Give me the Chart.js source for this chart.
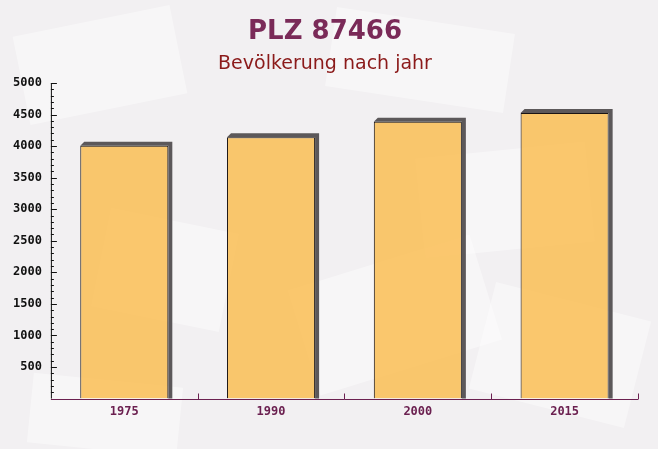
<!DOCTYPE html>
<html>
<head>
<meta charset="utf-8">
<script src="https://cdn.jsdelivr.net/npm/chart.js@4"></script>
<style>
  html, body { margin: 0; padding: 0; background: #f2f0f2; }
  #wrap { width: 658px; height: 449px; position: relative; }
</style>
</head>
<body>
<div id="wrap"><canvas id="barChart"></canvas></div>
<script>
const years = ["1975", "1990", "2000", "2015"];
const population = [4005, 4140, 4385, 4525];
const yTicks = [500, 1000, 1500, 2000, 2500, 3000, 3500, 4000, 4500, 5000];

// shadow behind bars, ticks drawn inward like the original
const decor = {
    id: "decor",
    beforeDraw(chart) {
        const c = chart.ctx;
        c.save();
        c.fillStyle = "#f2f0f2";
        c.fillRect(0, 0, chart.width, chart.height);
        // faint envelope shapes in the background
        c.fillStyle = "rgba(255,255,255,0.4)";
        const boxes = [[20, 20, 160, 90, -0.2], [330, 20, 180, 80, 0.15], [420, 150, 170, 100, -0.1],
                       [100, 220, 130, 100, 0.2], [300, 260, 190, 110, -0.3], [30, 380, 150, 70, 0.1],
                       [480, 300, 160, 110, 0.25]];
        boxes.forEach(b => {
            c.save();
            c.translate(b[0] + b[2] / 2, b[1] + b[3] / 2);
            c.rotate(b[4]);
            c.fillRect(-b[2] / 2, -b[3] / 2, b[2], b[3]);
            c.restore();
        });
        c.restore();
    },
    beforeDatasetsDraw(chart) {
        const c = chart.ctx;
        const meta = chart.getDatasetMeta(0);
        c.save();
        c.fillStyle = "#5c585a";
        meta.data.forEach(bar => {
            const l = bar.x - bar.width / 2;
            const r = bar.x + bar.width / 2;
            c.beginPath();
            c.moveTo(l, bar.y);
            c.lineTo(l + 4, bar.y - 4);
            c.lineTo(r + 4, bar.y - 4);
            c.lineTo(r + 4, bar.base);
            c.lineTo(r, bar.base);
            c.lineTo(r, bar.y);
            c.closePath();
            c.fill();
        });
        c.restore();
    },
    afterDraw(chart) {
        const c = chart.ctx;
        const x = chart.scales.x;
        const y = chart.scales.y;
        const area = chart.chartArea;
        c.save();
        c.lineWidth = 1;
        c.strokeStyle = "#111";
        c.beginPath();
        c.moveTo(area.left + 0.5, area.top);
        c.lineTo(area.left + 0.5, area.bottom);
        for (let v = 100; v <= 5000; v += 100) {
            const py = Math.round(y.getPixelForValue(v)) + 0.5;
            const len = v % 500 === 0 ? 6 : 3;
            c.moveTo(area.left, py);
            c.lineTo(area.left + len, py);
        }
        c.stroke();
        c.strokeStyle = "#6b2050";
        c.beginPath();
        const by = Math.round(area.bottom) + 0.5;
        c.moveTo(area.left, by);
        c.lineTo(area.right, by);
        for (let i = 0; i < years.length; i++) {
            const px = Math.round((x.getPixelForValue(i) + x.getPixelForValue(i + 1)) / 2) + 0.5;
            c.moveTo(px, by);
            c.lineTo(px, by - 6);
        }
        c.stroke();
        c.restore();
    }
};

new Chart(document.getElementById("barChart"), {
    type: "bar",
    data: {
        labels: years,
        datasets: [
        {
            label: "Bevölkerung",
            data: population,
            backgroundColor: "rgba(250, 190, 85, 0.85)",
            borderColor: "#1a1414",
            borderWidth: 1,
            borderSkipped: "bottom",
            barPercentage: 0.6,
            categoryPercentage: 1.0,
        },
        ],
    },
    plugins: [decor],
    options: {
        responsive: true,
        maintainAspectRatio: false,
        animation: false,
        layout: { padding: { left: 12, right: 20, top: 0, bottom: 32 } },
        plugins: {
            legend: { display: false },
            tooltip: { enabled: false },
            title: {
                display: true,
                text: "PLZ 87466",
                color: "#7a2a58",
                font: { family: "DejaVu Sans", size: 26, weight: "bold" },
                padding: { top: 17, bottom: 4 },
            },
            subtitle: {
                display: true,
                text: "Bevölkerung nach jahr",
                color: "#8b1a1a",
                font: { family: "DejaVu Sans", size: 19 },
                padding: { top: 0, bottom: 8 },
            },
        },
        scales: {
            x: {
                grid: { display: false },
                border: { display: false },
                ticks: {
                    color: "#6b2050",
                    font: { family: "DejaVu Sans Mono", size: 12, weight: "bold" },
                    padding: -2,
                },
            },
            y: {
                min: 0,
                max: 5000,
                afterBuildTicks(axis) {
                    axis.ticks = yTicks.map(v => ({ value: v }));
                },
                grid: { display: false },
                border: { display: false },
                ticks: {
                    color: "#111",
                    font: { family: "DejaVu Sans Mono", size: 12, weight: "bold" },
                    padding: 1,
                    callback: v => String(v),
                },
            },
        },
    },
});
</script>
</body>
</html>
